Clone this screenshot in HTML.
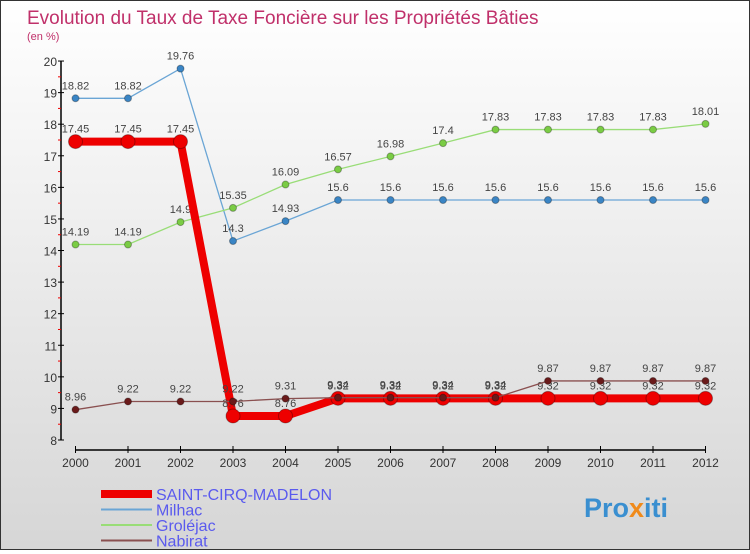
<!DOCTYPE html>
<html><head><meta charset="utf-8"><style>
html,body{margin:0;padding:0}
body{width:750px;height:550px;overflow:hidden;font-family:"Liberation Sans",sans-serif}
#wrap{position:relative;width:748px;height:548px;border:1px solid #333;background:linear-gradient(#fff,#d6d6d6)}
</style></head><body>
<div id="wrap">
<svg id="chart" width="748" height="548">
<text x="26" y="23" font-size="19" fill="#c0306a">Evolution du Taux de Taxe Foncière sur les Propriétés Bâties</text>
<text x="26" y="39" font-size="11" fill="#c0306a">(en %)</text>
<g id="axes"></g><g id="series"></g><g id="legend"></g>
<text x="583" y="516" font-size="27" font-weight="bold" fill="#3a8fd0">Pro<tspan fill="#f08a1a">x</tspan>iti</text>
</svg>
</div>
<script>
const years=[2000,2001,2002,2003,2004,2005,2006,2007,2008,2009,2010,2011,2012];
const yTicks=[8,9,10,11,12,13,14,15,16,17,18,19,20];
const saint=[17.45,17.45,17.45,8.76,8.76,9.32,9.32,9.32,9.32,9.32,9.32,9.32,9.32];
const milhac=[18.82,18.82,19.76,14.3,14.93,15.6,15.6,15.6,15.6,15.6,15.6,15.6,15.6];
const grolejac=[14.19,14.19,14.9,15.35,16.09,16.57,16.98,17.4,17.83,17.83,17.83,17.83,18.01];
const nabirat=[8.96,9.22,9.22,9.22,9.31,9.34,9.34,9.34,9.34,9.87,9.87,9.87,9.87];
const NS="http://www.w3.org/2000/svg";
function X(i){return 74.5+i*52.5;}
function Y(v){return 439-(v-8)*31.58;}
function mk(tag,at,parent){const e=document.createElementNS(NS,tag);for(const k in at)e.setAttribute(k,at[k]);parent.appendChild(e);return e;}
const axes=document.getElementById('axes');
let l=mk('line',{x1:60,y1:Y(20),x2:60,y2:Y(8),stroke:'#000','stroke-width':1.5},axes);


yTicks.forEach(t=>{
 mk('line',{x1:57,y1:Y(t),x2:63,y2:Y(t),stroke:'#000'},axes);
 if(t<20)mk('line',{x1:57,y1:Y(t+0.5),x2:60,y2:Y(t+0.5),stroke:'#e00'},axes);
 const tx=mk('text',{x:56,y:Y(t)+5,'text-anchor':'end','font-size':12,fill:'#333'},axes);
 tx.textContent=t;
 
 
});
l=mk('line',{x1:X(0),y1:449,x2:X(12),y2:449,stroke:'#000','stroke-width':1.5},axes);


years.forEach((y,i)=>{
 mk('line',{x1:X(i),y1:445,x2:X(i),y2:452,stroke:'#000'},axes);
 const tx=mk('text',{x:X(i),y:466,'text-anchor':'middle','font-size':12,fill:'#333'},axes);
 tx.textContent=y;
 
 
});
const ser=document.getElementById('series');
function draw(data,name,color,w,r,dot){
 const g=mk('g',{},ser);
 
 
 const p=mk('polyline',{points:data.map((v,i)=>X(i)+','+Y(v)).join(' '),fill:'none',stroke:color,'stroke-width':w},g);
 
 
 data.forEach((v,i)=>{
  const c=mk('circle',{cx:X(i),cy:Y(v),r:r,fill:dot,stroke:'rgba(0,0,0,0.3)'},g);
  
  
  const t=mk('text',{x:X(i),y:Y(v)-9,'text-anchor':'middle','font-size':11,fill:'#444'},g);
  t.textContent=v;
  
  
 });
}
draw(milhac,'milhac','#6aa5d5',1.3,3.5,'#3a85c5');
draw(grolejac,'grolejac','#99dd77',1.3,3.5,'#7acc44');
draw(saint,'saint-cirq-madelon','#ee0000',8,7,'#ee0000');
draw(nabirat,'nabirat','#8a5050',1.3,3.5,'#6a1a1a');
const leg=document.getElementById('legend');
const items=[['SAINT-CIRQ-MADELON','#ee0000',8],['Milhac','#6aa5d5',2],['Groléjac','#99dd77',2],['Nabirat','#8a5050',2]];
items.forEach((it,k)=>{
 const y=493+k*15.5;
 const g=mk('g',{},leg);
 
 
 mk('line',{x1:100,y1:y,x2:151,y2:y,stroke:it[1],'stroke-width':it[2]},g);
 const t=mk('text',{x:155,y:y+6,'font-size':16,fill:'#5a5aee'},g);
 t.textContent=it[0];
});
</script>
</body></html>
